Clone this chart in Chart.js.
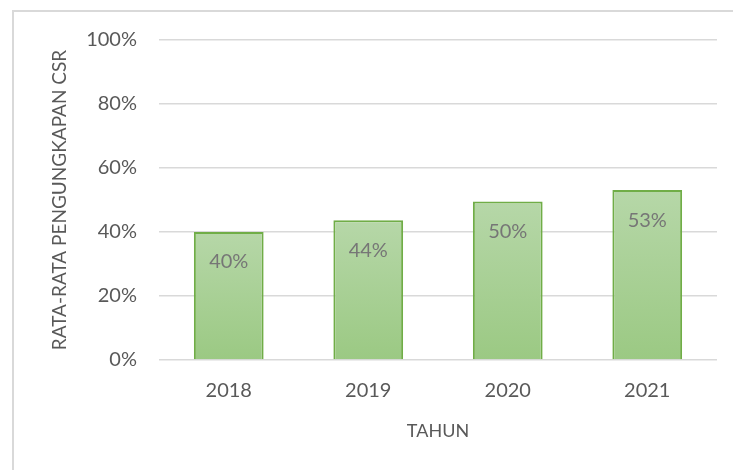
<!DOCTYPE html>
<html>
<head>
<meta charset="utf-8">
<script src="https://cdn.jsdelivr.net/npm/chart.js@4/dist/chart.umd.min.js"></script>
<style>
  html, body { margin: 0; padding: 0; background: #fff; }
  #wrap { position: relative; width: 733px; height: 470px; }
  #frame {
    position: absolute; left: 12px; top: 10px; right: -5px; bottom: -5px;
    border-top: 2px solid #d9d9d9; border-left: 2px solid #d9d9d9;
  }
  canvas { position: absolute; left: 0; top: 0; }
</style>
</head>
<body>
<div id="wrap">
  <div id="frame"></div>
  <canvas id="myChart" width="733" height="470"></canvas>
</div>
<script>
// Data
const years = ["2018", "2019", "2020", "2021"];
const csrRates = [0.40, 0.437, 0.495, 0.531];
const yTicks = [0, 0.2, 0.4, 0.6, 0.8, 1.0];

const font = "Lato, 'Open Sans', sans-serif";
const gray = "#595959";

// Draw the value labels inside each bar, near its top
const barLabels = {
  id: "barLabels",
  afterDatasetsDraw(chart) {
    const ctx = chart.ctx;
    const meta = chart.getDatasetMeta(0);
    ctx.save();
    ctx.font = "20px " + font;
    ctx.fillStyle = "#767676";
    ctx.textAlign = "center";
    ctx.textBaseline = "middle";
    meta.data.forEach((bar, i) => {
      const label = Math.round(csrRates[i] * 100) + "%";
      ctx.fillText(label, bar.x, bar.y + 30);
    });
    ctx.restore();
  },
};

const ctx = document.getElementById("myChart").getContext("2d");
new Chart(ctx, {
  type: "bar",
  data: {
    labels: years,
    datasets: [
      {
        label: "Rata-rata pengungkapan CSR",
        data: csrRates,
        backgroundColor: (context) => {
          const chart = context.chart;
          const yScale = chart.scales.y;
          if (!yScale || context.parsed === undefined) return "#a9d08e";
          const top = yScale.getPixelForValue(context.parsed.y);
          const bottom = yScale.getPixelForValue(0);
          if (!isFinite(top) || !isFinite(bottom) || top === bottom) return "#a9d08e";
          const g = chart.ctx.createLinearGradient(0, top, 0, bottom);
          g.addColorStop(0, "#b6d7a8");
          g.addColorStop(1, "#9bc983");
          return g;
        },
        borderColor: "#70ad47",
        borderWidth: 2,
        categoryPercentage: 1,
        barPercentage: 0.5,
      },
    ],
  },
  options: {
    responsive: false,
    animation: false,
    layout: { padding: { top: 40, right: 16, bottom: 0, left: 0 } },
    plugins: {
      legend: { display: false },
      tooltip: { enabled: false },
    },
    scales: {
      x: {
        grid: { display: false, drawTicks: false },
        border: { display: false },
        ticks: {
          color: gray,
          font: { family: font, size: 20 },
          padding: 19,
        },
        title: {
          display: true,
          text: "TAHUN",
          color: gray,
          font: { family: font, size: 18 },
          padding: { top: 12, bottom: 28 },
        },
        afterFit: (scale) => {
          scale.height = 110;
        },
      },
      y: {
        min: 0,
        max: 1,
        afterBuildTicks: (scale) => {
          scale.ticks = yTicks.map((v) => ({ value: v }));
        },
        grid: { color: "#d9d9d9", lineWidth: 1.5, drawTicks: false },
        border: { display: false },
        ticks: {
          color: gray,
          font: { family: font, size: 20 },
          padding: 22,
          callback: (v) => Math.round(v * 100) + "%",
        },
        title: {
          display: true,
          text: "RATA-RATA PENGUNGKAPAN CSR",
          color: gray,
          font: { family: font, size: 19 },
          padding: { top: 48, bottom: 0 },
        },
        afterFit: (scale) => {
          scale.width = 159;
        },
      },
    },
  },
  plugins: [barLabels],
});
</script>
</body>
</html>
